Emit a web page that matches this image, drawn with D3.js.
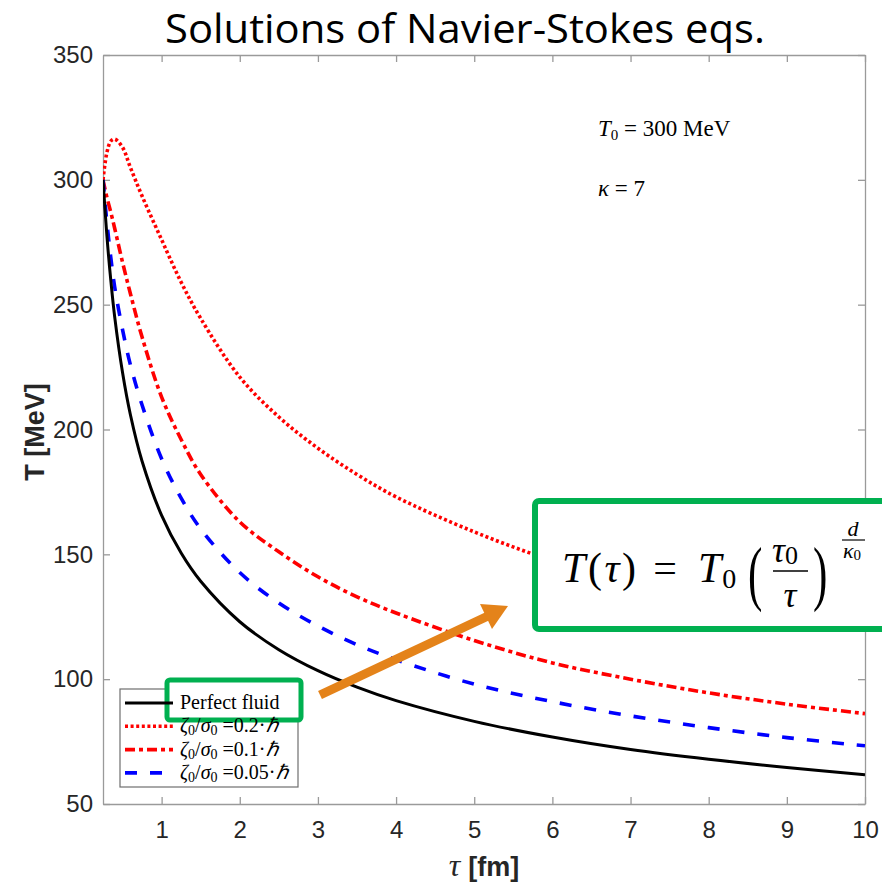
<!DOCTYPE html>
<html>
<head>
<meta charset="utf-8">
<script src="https://cdn.jsdelivr.net/npm/d3@7"></script>
<style>
  body { margin: 0; background: #fff; }
  svg { display: block; }
</style>
</head>
<body>
<div id="chart"></div>
<script>
// values
var tau = [0.25, 0.3, 0.35, 0.4, 0.5, 0.6, 0.75, 1, 1.25, 1.5, 2, 2.5, 3, 3.5, 4, 5, 6, 7, 8, 9, 10];
var perfectFluid = [300, 277.5, 259.7, 245, 222.8, 206, 187.3, 165.6, 150.5, 139.2, 123, 111.8, 103.4, 96.8, 91.4, 83.1, 76.8, 71.8, 67.9, 64.6, 61.7];
var zeta02  = [300, 311, 315.5, 316.3, 313, 305, 293.5, 276, 259, 244.5, 221, 205, 192.5, 182, 173, 159, 147.5, 138.5, 131, 125, 120];
var zeta01  = [300, 293, 287, 280.5, 267, 254.5, 237, 213, 196, 182, 163, 151, 141, 133, 126.5, 115.5, 106.5, 100, 94.5, 90, 86.2];
var zeta005 = [300, 283, 268.8, 257, 240, 226, 209.8, 188.3, 172.5, 160.2, 142.7, 130.5, 121.3, 113.8, 107.8, 98, 91, 85.3, 80.6, 76.6, 73.3];

var xTicks = [1, 2, 3, 4, 5, 6, 7, 8, 9, 10];
var yTicks = [50, 100, 150, 200, 250, 300, 350];
var legendNames = ["Perfect fluid", "0.2", "0.1", "0.05"];

var plotLeft = 103, plotRight = 865, plotTop = 55, plotBottom = 804;

var svg = d3.select("#chart")
    .append("svg")
    .attr("width", 882)
    .attr("height", 883);

var x = d3.scaleLinear().domain([0.25, 10]).range([plotLeft, plotRight]);
var y = d3.scaleLinear().domain([50, 350]).range([plotBottom, plotTop]);

// title
svg.append("text")
    .attr("x", 465)
    .attr("y", 43)
    .attr("text-anchor", "middle")
    .attr("font-family", "Open Sans, Noto Sans, sans-serif")
    .attr("font-size", 41)
    .attr("textLength", 600)
    .attr("lengthAdjust", "spacingAndGlyphs")
    .attr("fill", "#000")
    .text("Solutions of Navier-Stokes eqs.");

// axes (ticks pointing inwards, box on all sides)
var axisColor = "#9a9a9a";
var labelColor = "#262626";

function styleAxis(g) {
    g.selectAll("path, line").attr("stroke", axisColor).attr("stroke-width", 1.3);
    g.selectAll("text")
        .attr("fill", labelColor)
        .attr("font-family", "Liberation Sans, Arial, sans-serif")
        .attr("font-size", 24);
}

svg.append("g")
    .attr("transform", "translate(0," + plotBottom + ")")
    .call(d3.axisBottom(x).tickValues(xTicks).tickSize(-7).tickSizeOuter(0).tickPadding(17))
    .call(styleAxis);

svg.append("g")
    .attr("transform", "translate(0," + plotTop + ")")
    .call(d3.axisTop(x).tickValues(xTicks).tickSize(-7).tickSizeOuter(0).tickFormat(""))
    .call(styleAxis);

svg.append("g")
    .attr("transform", "translate(" + plotLeft + ",0)")
    .call(d3.axisLeft(y).tickValues(yTicks).tickSize(-7).tickSizeOuter(0).tickPadding(10))
    .call(styleAxis);

svg.append("g")
    .attr("transform", "translate(" + plotRight + ",0)")
    .call(d3.axisRight(y).tickValues(yTicks).tickSize(-7).tickSizeOuter(0).tickFormat(""))
    .call(styleAxis);

// axis labels
svg.append("text")
    .attr("transform", "translate(44," + 432 + ") rotate(-90)")
    .attr("text-anchor", "middle")
    .attr("font-family", "Liberation Sans, Arial, sans-serif")
    .attr("font-weight", "bold")
    .attr("font-size", 27)
    .attr("fill", labelColor)
    .text("T [MeV]");

var xl = svg.append("text")
    .attr("x", (plotLeft + plotRight) / 2)
    .attr("y", 876)
    .attr("text-anchor", "middle")
    .attr("fill", labelColor);
xl.append("tspan")
    .attr("font-family", "Liberation Serif, serif")
    .attr("font-style", "italic")
    .attr("font-size", 32)
    .text("τ ");
xl.append("tspan")
    .attr("font-family", "Liberation Sans, Arial, sans-serif")
    .attr("font-weight", "bold")
    .attr("font-size", 27)
    .text("[fm]");

// curves
svg.append("clipPath").attr("id", "plotArea")
    .append("rect")
    .attr("x", plotLeft).attr("y", plotTop)
    .attr("width", plotRight - plotLeft).attr("height", plotBottom - plotTop);

var line = d3.line()
    .x(function(d) { return x(d[0]); })
    .y(function(d) { return y(d[1]); })
    .curve(d3.curveCatmullRom.alpha(0.5));

var series = [
    {values: zeta02, color: "#ff0000", dash: "3,2.6", width: 3.6},
    {values: zeta01, color: "#ff0000", dash: "10,4,4,4", width: 3.6},
    {values: zeta005, color: "#0000ff", dash: "12,13", width: 3.6},
    {values: perfectFluid, color: "#000000", dash: null, width: 3}
];

var curves = svg.append("g").attr("clip-path", "url(#plotArea)");
series.forEach(function(s) {
    curves.append("path")
        .datum(tau.map(function(t, i) { return [t, s.values[i]]; }))
        .attr("d", line)
        .attr("fill", "none")
        .attr("stroke", s.color)
        .attr("stroke-width", s.width)
        .attr("stroke-dasharray", s.dash);
});

// parameter annotations
var serif = "Liberation Serif, Times New Roman, serif";
var a1 = svg.append("text")
    .attr("x", 598).attr("y", 136)
    .attr("font-family", serif).attr("font-size", 23).attr("fill", "#000");
a1.append("tspan").attr("font-style", "italic").text("T");
a1.append("tspan").attr("font-size", 15).attr("dy", 4).text("0");
a1.append("tspan").attr("dy", -4).text(" = 300 MeV");

var a2 = svg.append("text")
    .attr("x", 598).attr("y", 196)
    .attr("font-family", serif).attr("font-size", 23).attr("fill", "#000");
a2.append("tspan").attr("font-style", "italic").text("κ");
a2.append("tspan").text(" = 7");

// legend
var legendX = 120, legendY = 689;
svg.append("rect")
    .attr("x", legendX).attr("y", legendY)
    .attr("width", 178).attr("height", 98)
    .attr("fill", "#fff")
    .attr("stroke", "#6e6e6e")
    .attr("stroke-width", 1.2);

// green highlight around the first legend entry
svg.append("rect")
    .attr("x", 167).attr("y", 680)
    .attr("width", 134).attr("height", 40)
    .attr("rx", 3)
    .attr("fill", "#fff")
    .attr("stroke", "#00b050")
    .attr("stroke-width", 5);

var legendOrder = [3, 0, 1, 2];
legendOrder.forEach(function(si, i) {
    var s = series[si];
    var ly = legendY + 14 + i * 23.3;
    svg.append("line")
        .attr("x1", legendX + 5).attr("x2", legendX + 53)
        .attr("y1", ly).attr("y2", ly)
        .attr("stroke", s.color)
        .attr("stroke-width", s.width)
        .attr("stroke-dasharray", s.dash);
    var t = svg.append("text")
        .attr("x", legendX + 60).attr("y", ly + 6)
        .attr("font-family", serif).attr("font-size", 20).attr("fill", "#000");
    if (i === 0) {
        t.text(legendNames[0]);
    } else {
        t.append("tspan").attr("font-style", "italic").text("ζ");
        t.append("tspan").attr("font-size", 14).attr("dy", 3).text("0");
        t.append("tspan").attr("dy", -3).text("/");
        t.append("tspan").attr("font-style", "italic").text("σ");
        t.append("tspan").attr("font-size", 14).attr("dy", 3).text("0");
        t.append("tspan").attr("dy", -3).text(" =" + legendNames[i] + "·");
        t.append("tspan").attr("font-style", "italic").text("ℏ");
    }
});

// orange arrow
var orange = "#e4831a";
svg.append("line")
    .attr("x1", 320).attr("y1", 695)
    .attr("x2", 488).attr("y2", 616)
    .attr("stroke", orange)
    .attr("stroke-width", 9);
svg.append("path")
    .attr("d", "M508,606 L492,629 L480,604 Z")
    .attr("fill", orange);

// formula box
svg.append("rect")
    .attr("x", 535).attr("y", 501)
    .attr("width", 400).attr("height", 128)
    .attr("rx", 4)
    .attr("fill", "#fff")
    .attr("stroke", "#00b050")
    .attr("stroke-width", 6);

var f = svg.append("g").attr("font-family", serif).attr("fill", "#000");
var f1 = f.append("text").attr("x", 562).attr("y", 582).attr("font-size", 42)
    .attr("textLength", 74).attr("lengthAdjust", "spacing");
f1.append("tspan").attr("font-style", "italic").text("T");
f1.append("tspan").text("(");
f1.append("tspan").attr("font-style", "italic").text("τ");
f1.append("tspan").text(")");
f.append("text").attr("x", 665).attr("y", 582).attr("font-size", 42)
    .attr("text-anchor", "middle").text("=");
var f2 = f.append("text").attr("x", 698).attr("y", 582).attr("font-size", 42);
f2.append("tspan").attr("font-style", "italic").text("T");
f2.append("tspan").attr("font-size", 28).attr("dy", 6).attr("dx", 1).text("0");

// big thin parentheses
f.append("text").attr("transform", "translate(748,597) scale(0.6,1)")
    .attr("font-size", 72).text("(");
f.append("text").attr("transform", "translate(813,597) scale(0.6,1)")
    .attr("font-size", 72).text(")");

var num = f.append("text").attr("x", 772).attr("y", 562).attr("font-size", 36);
num.append("tspan").attr("font-style", "italic").text("τ");
num.append("tspan").attr("font-size", 26).attr("dy", 2).text("0");
f.append("line")
    .attr("x1", 773).attr("x2", 808)
    .attr("y1", 571).attr("y2", 571)
    .attr("stroke", "#000").attr("stroke-width", 1.6);
f.append("text").attr("x", 790).attr("y", 607).attr("font-size", 36)
    .attr("text-anchor", "middle").attr("font-style", "italic").text("τ");

f.append("text").attr("x", 853).attr("y", 536).attr("font-size", 22)
    .attr("text-anchor", "middle").attr("font-style", "italic").text("d");
f.append("line")
    .attr("x1", 842).attr("x2", 865)
    .attr("y1", 540).attr("y2", 540)
    .attr("stroke", "#000").attr("stroke-width", 1.2);
var ex = f.append("text").attr("x", 843).attr("y", 558).attr("font-size", 22);
ex.append("tspan").attr("font-style", "italic").text("κ");
ex.append("tspan").attr("font-size", 15).attr("dy", 2).text("0");
</script>
</body>
</html>
